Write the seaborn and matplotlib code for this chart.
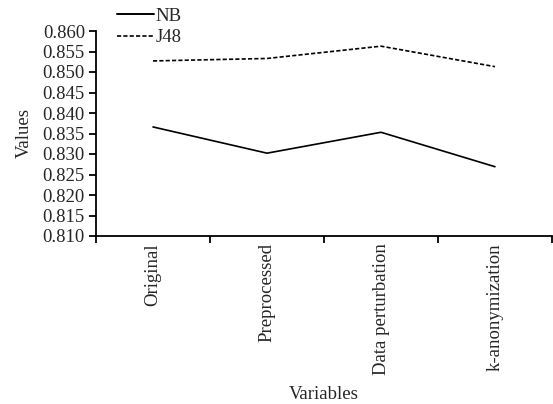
import matplotlib
matplotlib.use("Agg")
import matplotlib.pyplot as plt
import seaborn as sns
import pandas as pd
from matplotlib.ticker import FixedLocator, NullFormatter
from matplotlib.lines import Line2D

categories = ["Original", "Preprocessed", "Data perturbation", "k-anonymization"]
nb_values = [0.8366, 0.8302, 0.8353, 0.8269]
j48_values = [0.8527, 0.8533, 0.8563, 0.8513]
y_ticks = [0.810, 0.815, 0.820, 0.825, 0.830, 0.835, 0.840, 0.845, 0.850, 0.855, 0.860]

sns.set_theme(style="ticks")
plt.rcParams['font.family'] = ['Liberation Serif', 'DejaVu Serif']

df = pd.DataFrame({
    "x": list(range(len(categories))) * 2,
    "value": nb_values + j48_values,
    "series": ["NB"] * len(categories) + ["J48"] * len(categories),
})

FS = 13.5
fig = plt.figure(figsize=(5.53, 4.04), dpi=100)
ax = fig.add_axes([96/553, 1 - 236/404, (552 - 96)/553, (236 - 31)/404])

sns.lineplot(data=df, x="x", y="value", style="series", style_order=["NB", "J48"],
             dashes={"NB": "", "J48": (2.5, 1.3)}, color="black", linewidth=1.2,
             ax=ax, legend=False)

ax.set_xlim(-0.5, len(categories) - 0.5)
ax.set_ylim(0.810, 0.860)
ax.set_yticks(y_ticks)
ax.set_yticklabels([f"{v:.3f}" for v in y_ticks], fontsize=FS)
ax.xaxis.set_major_locator(FixedLocator([i - 0.5 for i in range(len(categories) + 1)]))
ax.xaxis.set_major_formatter(NullFormatter())
ax.xaxis.set_minor_locator(FixedLocator(list(range(len(categories)))))
ax.set_xticklabels(categories, minor=True, rotation=90, fontsize=FS)
ax.tick_params(axis="x", which="minor", length=0, pad=5)
ax.tick_params(axis="both", which="major", length=5, width=1.3, color="black", direction="out")
ax.tick_params(axis="y", pad=3)
for s in ["top", "right"]:
    ax.spines[s].set_visible(False)
for s in ["left", "bottom"]:
    ax.spines[s].set_color("black")
    ax.spines[s].set_linewidth(1.3)
ax.set_xlabel("Variables", fontsize=FS, labelpad=8)
ax.set_ylabel("Values", fontsize=FS, labelpad=7)

handles = [Line2D([], [], color="black", linewidth=1.4),
           Line2D([], [], color="black", linewidth=1.2, linestyle=(0, (2.5, 1.3)))]
fig.legend(handles, ["NB", "J48"], loc="upper left", bbox_to_anchor=(109/553, 1 - 0/404),
           frameon=False, fontsize=FS, handlelength=2.0, handletextpad=0.1,
           labelspacing=0.25, borderaxespad=0)

fig.savefig("out.png", dpi=100)
